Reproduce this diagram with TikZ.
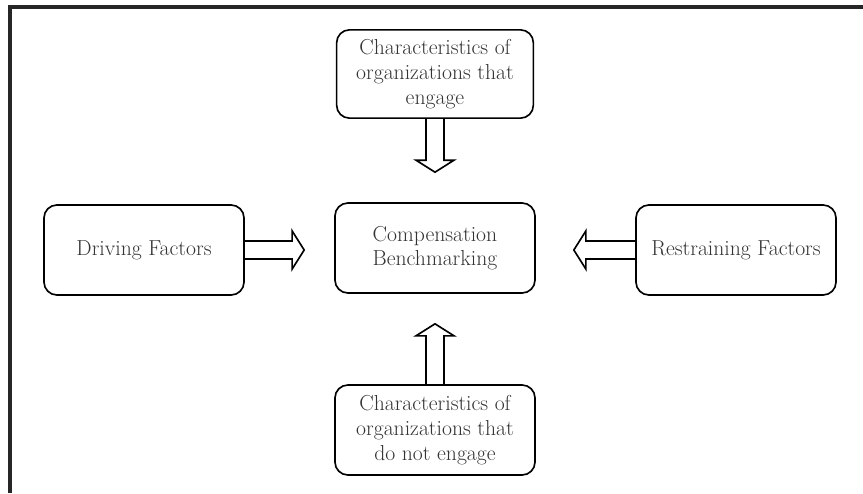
\documentclass[tikz,border=0pt]{standalone}
\usepackage{tikz}
\usetikzlibrary{calc}

\tikzset{
  box/.style={draw, rectangle, rounded corners=11pt, line width=1.4pt, minimum width=6cm, minimum height=2.7cm, inner sep=0pt, align=center, font=\fontsize{18.5}{21}\selectfont, text=black!80},
  arrowline/.style={line width=1.4pt, line join=miter},
  frame/.style={line width=2.6pt, black!85}
}

% block arrow from #1 (on a box) to tip #2
\newcommand{\blockarrow}[2]{%
  \coordinate (ba) at ($(#2)!0.36cm!(#1)$);
  \draw[arrowline] ($(#1)!0.27cm!90:(#2)$) -- ($(ba)!0.27cm!90:(#2)$) -- ($(ba)!0.57cm!90:(#2)$) -- (#2)
    -- ($(ba)!0.57cm!-90:(#2)$) -- ($(ba)!0.27cm!-90:(#2)$) -- ($(#1)!0.27cm!-90:(#2)$);
}

\begin{document}
\begin{tikzpicture}[x=0.03cm, y=-0.03cm]
				\useasboundingbox (0,0) rectangle (863,493);
				\draw[frame] (10,493) -- (10,7) -- (863,7);
				\node[box] (bench)at(435, 248) {Compensation\\Benchmarking};
				\node[box, minimum width=5.9cm, minimum height=2.65cm] (engage)at(435, 74) {Characteristics of\\organizations that\\engage};
				\node[box] (notengage)at(435, 430) {Characteristics of\\organizations that\\do not engage};
				\node[box] (driving)at(144, 250) {Driving Factors};
				\node[box] (restrain)at(736, 250) {Restraining Factors};
				\coordinate (tipT) at ($(bench.north)+(0,-30)$);
				\coordinate (tipB) at ($(bench.south)+(0,30)$);
				\coordinate (tipL) at ($(bench.west |- driving.east)+(-30,0)$);
				\coordinate (tipR) at ($(bench.east |- restrain.west)+(38,0)$);
				\blockarrow{engage.south}{tipT}
				\blockarrow{notengage.north}{tipB}
				\blockarrow{driving.east}{tipL}
				\blockarrow{restrain.west}{tipR}
			\end{tikzpicture}
\end{document}
